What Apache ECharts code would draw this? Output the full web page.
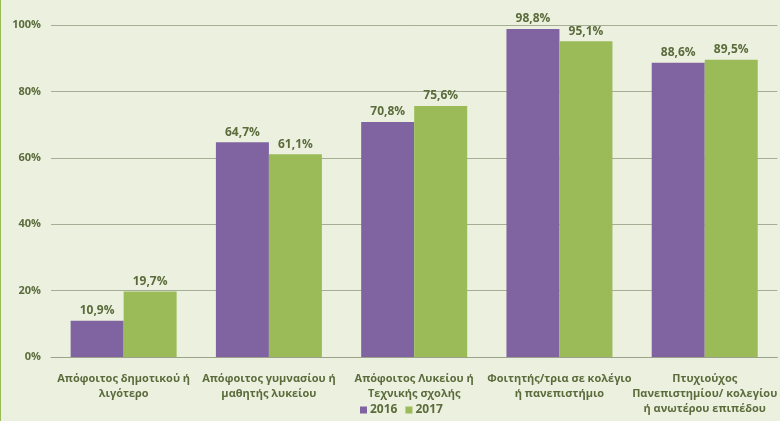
<!DOCTYPE html>
<html><head><meta charset="utf-8">
<script src="https://cdn.jsdelivr.net/npm/echarts@6/dist/echarts.min.js"></script>
<style>html,body{margin:0;padding:0;background:#ebf1de;}#c{width:779px;height:421px;border-left:1px solid #9bbb59;}</style>
</head><body><div id="c"></div>
<script>
const categories = ["Απόφοιτος δημοτικού ή\nλιγότερο","Απόφοιτος γυμνασίου ή\nμαθητής λυκείου","Απόφοιτος Λυκείου ή\nΤεχνικής σχολής","Φοιτητής/τρια σε κολέγιο\nή πανεπιστήμιο","Πτυχιούχος\nΠανεπιστημίου/ κολεγίου\nή ανωτέρου επιπέδου"];
const values2016 = [10.9, 64.7, 70.8, 98.8, 88.6];
const values2017 = [19.7, 61.1, 75.6, 95.1, 89.5];
const seriesNames = ["2016","2017"];
const textColor = "#5b6b3c";
const font = "Open Sans";
const chart = echarts.init(document.getElementById('c'));
const lbl = {show:true, position:'top', distance:4, color:textColor, fontFamily:font, fontWeight:'bold', fontSize:12,
  formatter: p => p.value.toFixed(1).replace('.',',') + '%'};
chart.setOption({
  backgroundColor:'#ebf1de',
  animation:false,
  grid:{left:50, right:0, top:25, bottom:64, containLabel:false},
  legend:{bottom:0, left:354, itemWidth:7, itemHeight:7, itemGap:8, icon:'rect',
    textStyle:{color:textColor, fontFamily:font, fontWeight:'bold', fontSize:12, padding:[0,0,0,-2]}, data:seriesNames},
  xAxis:{type:'category', data:categories, axisTick:{show:false},
    axisLine:{lineStyle:{color:'#9aa38a'}},
    axisLabel:{color:textColor, fontFamily:font, fontWeight:'bold', fontSize:11, lineHeight:15, margin:14, interval:0}},
  yAxis:{type:'value', min:0, max:100, interval:20,
    axisLabel:{color:textColor, fontFamily:font, fontWeight:'bold', fontSize:11, formatter:'{value}%', margin:10},
    splitLine:{lineStyle:{color:'#a5ad95'}}, axisLine:{show:false}, axisTick:{show:false}},
  series:[
    {name:seriesNames[0], type:'bar', data:values2016, barWidth:53, barGap:'0%', itemStyle:{color:'#8064a2'}, label:lbl},
    {name:seriesNames[1], type:'bar', data:values2017, barWidth:53, itemStyle:{color:'#9bbb59'}, label:lbl}
  ]
});
</script></body></html>
